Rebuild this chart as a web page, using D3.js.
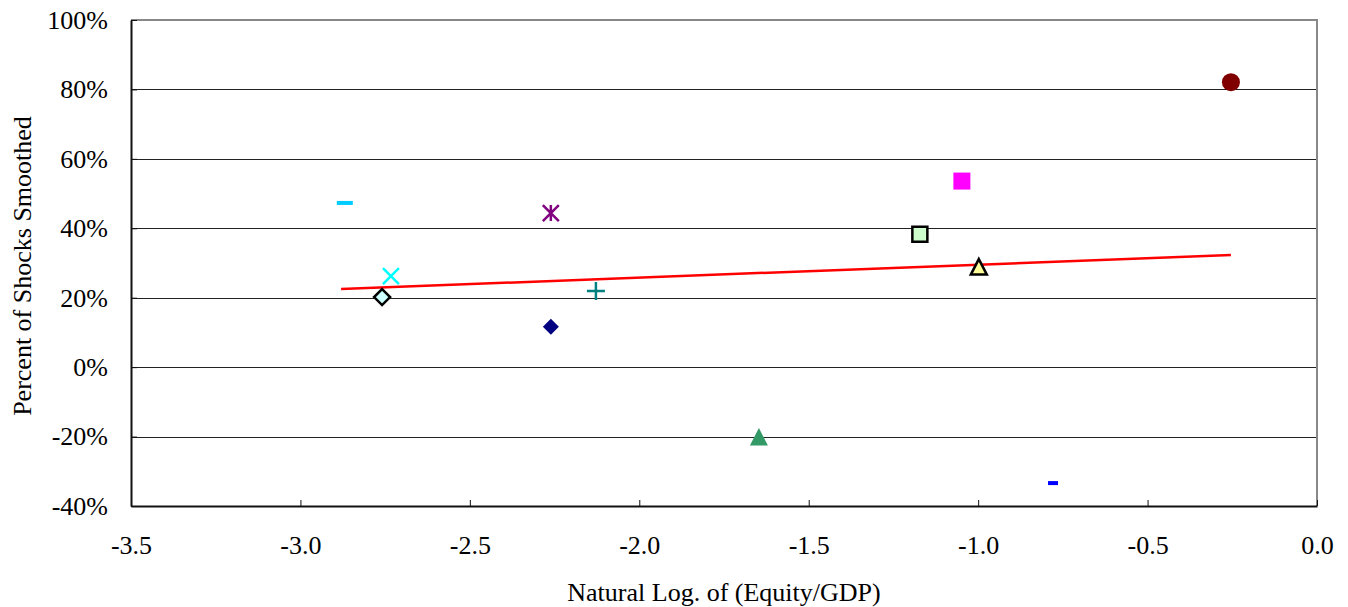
<!DOCTYPE html>
<html>
<head>
<meta charset="utf-8">
<script src="https://cdn.jsdelivr.net/npm/d3@7"></script>
<style>
  body { margin: 0; background: #fff; }
</style>
</head>
<body>
<div id="container"></div>
<script>
// data
const xValues = [-2.869, -2.733, -2.759, -2.261, -2.261, -2.128, -1.647, -1.172, -1.048, -0.998, -0.779, -0.254]
const yValues = [47.3, 26.2, 20.2, 44.4, 11.6, 21.9, -20.4, 38.3, 53.6, 28.6, -33.4, 82.1]
const trendX = [-2.88, -0.254]
const trendY = [22.5, 32.3]
const xTicks = [-3.5, -3.0, -2.5, -2.0, -1.5, -1.0, -0.5, 0.0]
const yTicks = [-40, -20, 0, 20, 40, 60, 80, 100]

// marker look, one per point
const markers = [
  { shape: 'dash', fill: '#00CCFF', size: 16 },
  { shape: 'cross', stroke: '#00FFFF', size: 16 },
  { shape: 'diamond', fill: '#CCFFFF', stroke: '#000', size: 8 },
  { shape: 'star', stroke: '#800080', size: 16 },
  { shape: 'diamond', fill: '#000080', size: 8 },
  { shape: 'plus', stroke: '#008080', size: 18 },
  { shape: 'triangle', fill: '#339966', size: 18 },
  { shape: 'square', fill: '#CCFFCC', stroke: '#000', size: 15 },
  { shape: 'square', fill: '#FF00FF', size: 17 },
  { shape: 'triangle', fill: '#FFFF99', stroke: '#000', size: 16 },
  { shape: 'dash', fill: '#0000FF', size: 10 },
  { shape: 'circle', fill: '#800000', size: 9 }
]

const serif = "'Liberation Serif', 'Times New Roman', 'DejaVu Serif', serif"
const fontSize = 26
const w = 1348
const h = 607
const mLeft = 131, mRight = 1317, mTop = 20, mBottom = 506

const svg = d3.select('#container')
  .append('svg')
  .attr('width', w)
  .attr('height', h)

const xScale = d3.scaleLinear().domain([-3.5, 0]).range([mLeft, mRight])
const yScale = d3.scaleLinear().domain([-40, 100]).range([mBottom, mTop])

// gridlines
svg.append('g')
  .selectAll('line')
  .data(yTicks.filter(t => t !== -40 && t !== 100))
  .enter().append('line')
  .attr('x1', mLeft).attr('x2', mRight)
  .attr('y1', d => Math.round(yScale(d)) + 0.5)
  .attr('y2', d => Math.round(yScale(d)) + 0.5)
  .attr('stroke', '#222')
  .attr('stroke-width', 1)

// top and right frame (grey)
svg.append('path')
  .attr('d', `M${mLeft},${mTop} H${mRight} V${mBottom}`)
  .attr('fill', 'none')
  .attr('stroke', '#888')
  .attr('stroke-width', 2)

// x axis, ticks inward
const xAxis = d3.axisBottom(xScale)
  .tickValues(xTicks)
  .tickSize(-6)
  .tickSizeOuter(0)
  .tickPadding(30)
  .tickFormat(d => d3.format('.1f')(d).replace('−', '-'))

const gx = svg.append('g')
  .attr('transform', 'translate(0,' + mBottom + ')')
  .call(xAxis)
  .attr('font-family', serif)
  .attr('font-size', fontSize)
gx.select('.domain').attr('stroke', '#111').attr('stroke-width', 2)
gx.selectAll('.tick line').attr('stroke', '#111')
gx.selectAll('.tick text').attr('fill', '#000')

// y axis, ticks inward
const yAxis = d3.axisLeft(yScale)
  .tickValues(yTicks)
  .tickSize(-6)
  .tickSizeOuter(0)
  .tickPadding(30)
  .tickFormat(d => d + '%')

const gy = svg.append('g')
  .attr('transform', 'translate(' + mLeft + ',0)')
  .call(yAxis)
  .attr('font-family', serif)
  .attr('font-size', fontSize)
gy.select('.domain').attr('stroke', '#111').attr('stroke-width', 2)
gy.selectAll('.tick line').attr('stroke', '#111')
gy.selectAll('.tick text').attr('fill', '#000').attr('dx', '7')

// trend line
const line = d3.line()
  .x(d => xScale(d[0]))
  .y(d => yScale(d[1]))

svg.append('path')
  .datum(trendX.map((x, i) => [x, trendY[i]]))
  .attr('d', line)
  .attr('fill', 'none')
  .attr('stroke', '#FF0000')
  .attr('stroke-width', 2.5)

// markers
function markerPath(m) {
  const s = m.size
  const r = s / 2
  switch (m.shape) {
    case 'cross':
      return `M${-r},${-r}L${r},${r}M${-r},${r}L${r},${-r}`
    case 'plus':
      return `M${-r},0H${r}M0,${-r}V${r}`
    case 'star':
      return `M${-r},${-r}L${r},${r}M${-r},${r}L${r},${-r}M0,${-r}V${r}`
    case 'diamond':
      return `M0,${-s}L${s},0L0,${s}L${-s},0Z`
    case 'square':
      return `M${-r},${-r}H${r}V${r}H${-r}Z`
    case 'triangle':
      return `M0,${-s * 0.55}L${r},${s * 0.42}H${-r}Z`
    case 'dash':
      return `M${-r},-2H${r}V2H${-r}Z`
    case 'circle':
      return d3.symbol(d3.symbolCircle, Math.PI * s * s)()
  }
}

svg.append('g')
  .selectAll('path')
  .data(xValues.map((x, i) => ({ x: x, y: yValues[i], m: markers[i] })))
  .enter().append('path')
  .attr('transform', d => 'translate(' + xScale(d.x) + ',' + yScale(d.y) + ')')
  .attr('d', d => markerPath(d.m))
  .attr('fill', d => d.m.fill || 'none')
  .attr('stroke', d => d.m.stroke || 'none')
  .attr('stroke-width', 2.5)
  .attr('stroke-linejoin', 'miter')

// axis titles
svg.append('text')
  .attr('x', (mLeft + mRight) / 2)
  .attr('y', 601)
  .attr('text-anchor', 'middle')
  .attr('font-family', serif)
  .attr('font-size', fontSize)
  .text('Natural Log. of (Equity/GDP)')

svg.append('text')
  .attr('transform', 'rotate(-90)')
  .attr('x', -266)
  .attr('y', 31)
  .attr('text-anchor', 'middle')
  .attr('font-family', serif)
  .attr('font-size', fontSize)
  .text('Percent of Shocks Smoothed')
</script>
</body>
</html>
